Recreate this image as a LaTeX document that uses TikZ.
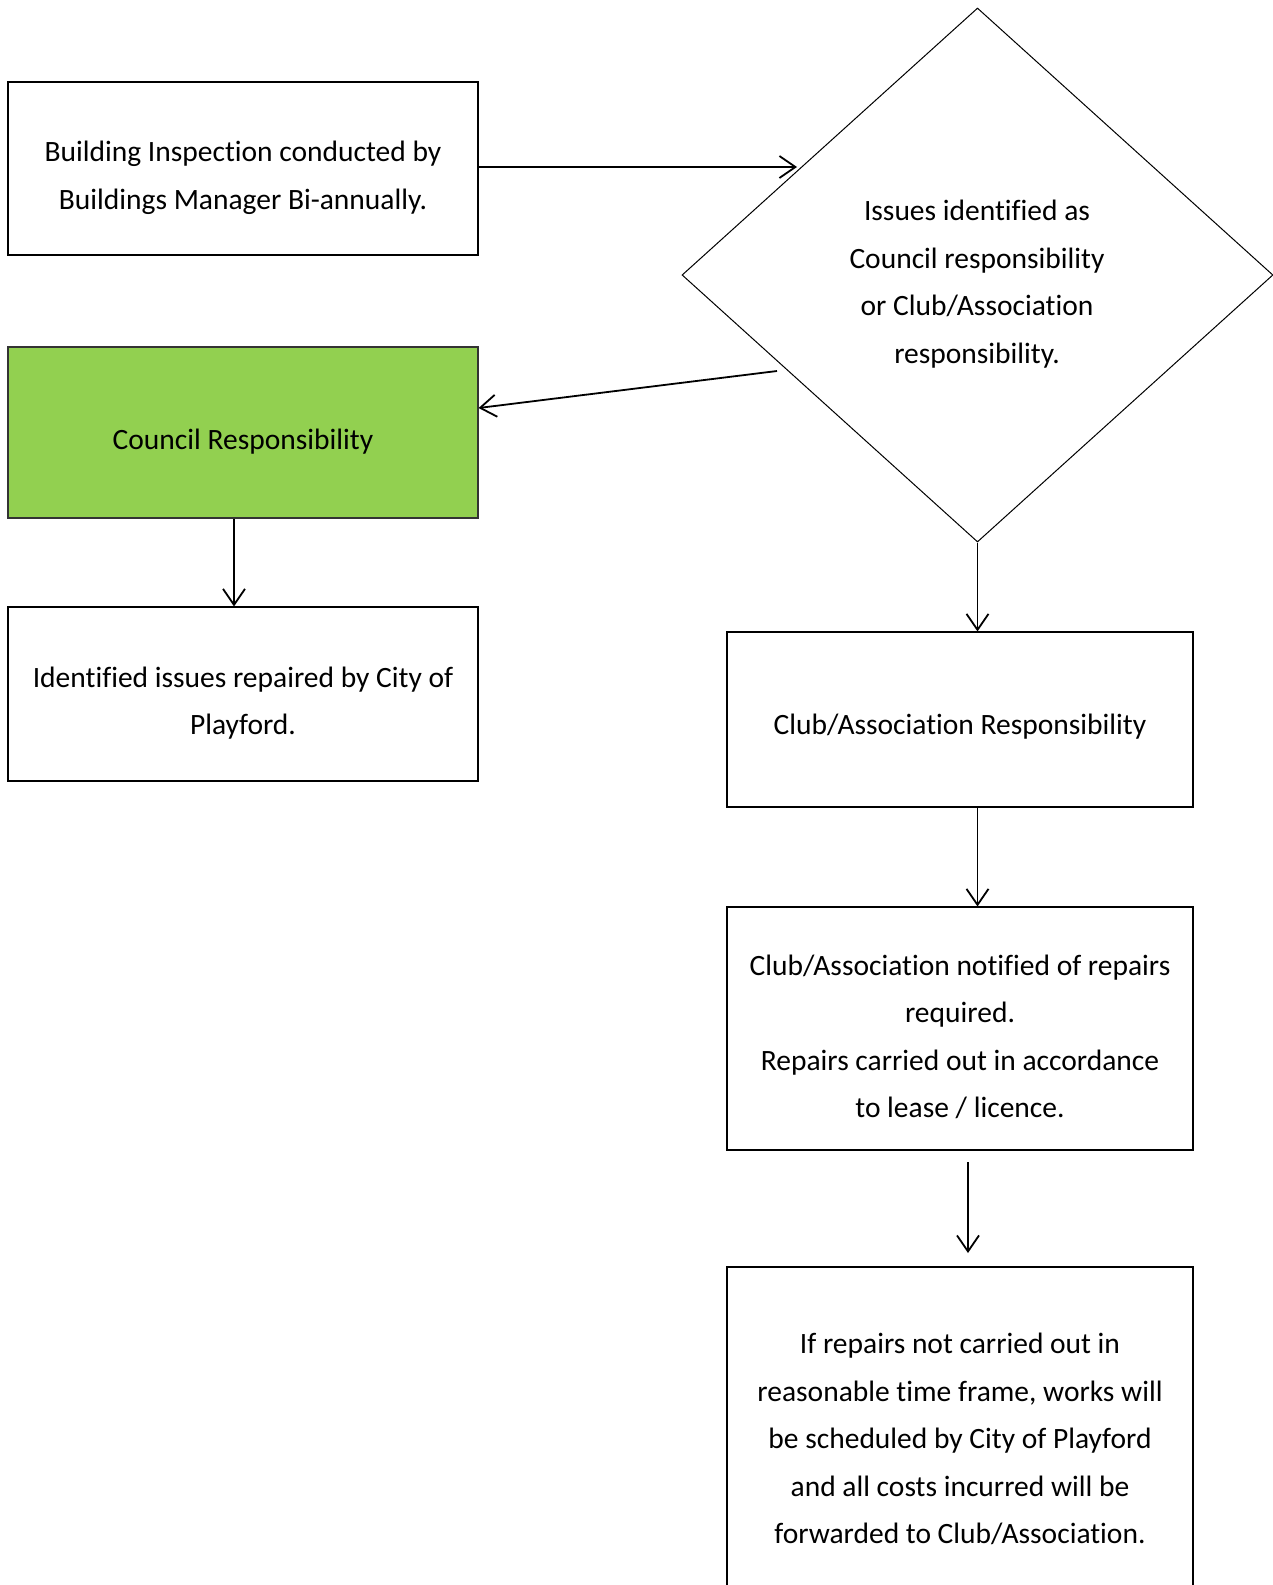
\documentclass[tikz,border=0pt]{standalone}
\usepackage{fontspec}
\setmainfont{Carlito}[Ligatures=NoCommon]
\usetikzlibrary{arrows.meta,shapes.geometric}
\definecolor{cgreen}{HTML}{92D050}
\begin{document}
\begin{tikzpicture}[x=1pt,y=-1pt,
  box/.style={draw=black, line width=1.1pt, rectangle, inner sep=0pt},
  lbl/.style={align=center, font=\fontsize{29.5}{47.5}\selectfont, inner sep=0pt},
  conn/.style={line width=1.8pt, -{Straight Barb[length=16pt,width=22pt,line width=1.8pt]}}]
\useasboundingbox (0,0) rectangle (1273,1585);
\clip (0,0) rectangle (1273,1585);
\fill[white] (0,0) rectangle (1273,1585);

\node[diamond, draw=black, line width=1pt, minimum width=591pt, minimum height=534pt, inner sep=0pt] (dia) at (977.5,275) {};
\node[box, minimum width=470pt, minimum height=173pt] (b1) at (243,168.5) {};
\node[box, fill=cgreen, draw=black!80, minimum width=470pt, minimum height=171pt] (council) at (243,432.5) {};
\node[box, minimum width=470pt, minimum height=174pt] (ident) at (243,694) {};
\node[box, minimum width=466pt, minimum height=175pt] (club) at (960,719.5) {};
\node[box, minimum width=466pt, minimum height=243pt] (notif) at (960,1028.5) {};
\node[box, minimum width=466pt, minimum height=433pt] (last) at (960,1483.5) {};

\node[lbl] (t1) at (243,178) {Building Inspection conducted by\\Buildings Manager Bi-annually.};
\node[lbl] (tdia) at (977,284) {Issues identified as\\Council responsibility\\or Club/Association\\responsibility.};
\node[lbl] (tcouncil) at (243,442) {Council Responsibility};
\node[lbl] (tident) at (243,703) {Identified issues repaired by City of\\Playford.};
\node[lbl] (tclub) at (960,727) {Club/Association Responsibility};
\node[lbl] (tnotif) at (960,1037) {Club/Association notified of repairs\\required.\\Repairs carried out in accordance\\to lease / licence.};
\node[lbl] (tlast) at (960,1439) {If repairs not carried out in\\reasonable time frame, works will\\be scheduled by City of Playford\\and all costs incurred will be\\forwarded to Club/Association.};

\coordinate (a1e) at (797,167);
\coordinate (a2s) at (777,371);
\coordinate (a6s) at (968,1162);
\coordinate (a6e) at (968,1253);

\draw[conn] (b1.east |- a1e) -- (a1e);
\draw[conn] (a2s) -- ([yshift=24.5pt]council.east);
\draw[conn] (dia.south) -- (dia.south |- club.north);
\draw[conn] ([xshift=-9pt]council.south) -- ([xshift=-9pt]ident.north);
\draw[conn] (club.south -| dia.south) -- (notif.north -| dia.south);
\draw[conn] (a6s) -- (a6e);
\end{tikzpicture}
\end{document}
